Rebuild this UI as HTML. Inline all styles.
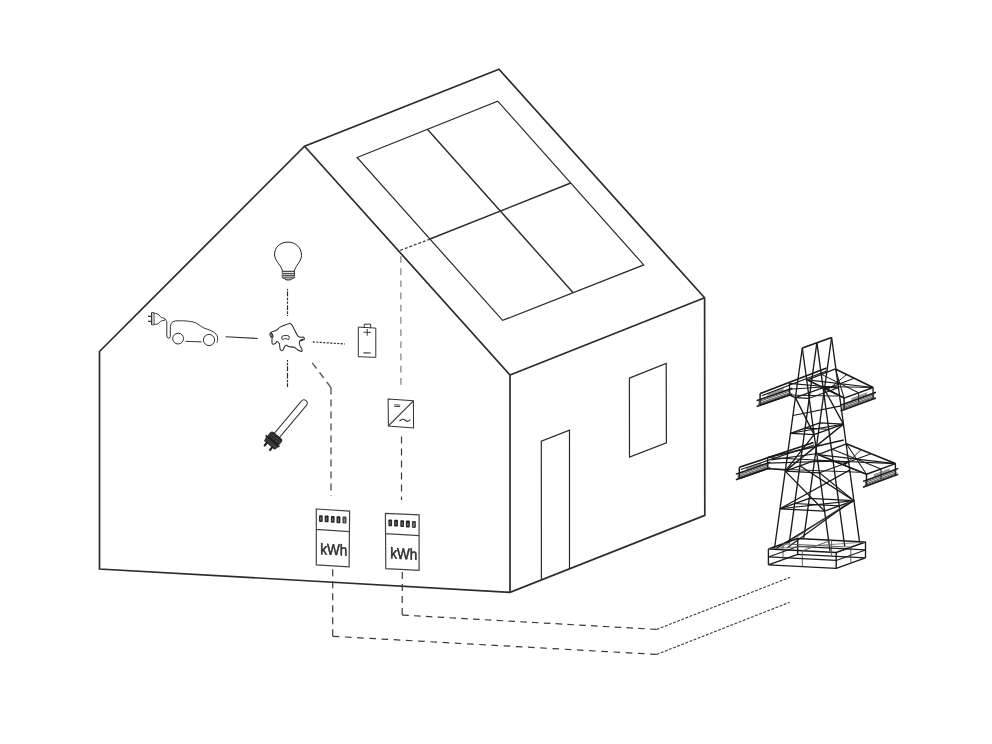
<!DOCTYPE html>
<html><head><meta charset="utf-8">
<style>
html,body{margin:0;padding:0;background:#fff;width:992px;height:744px;overflow:hidden}
svg{display:block;filter:grayscale(1)}
</style></head>
<body>
<svg width="992" height="744" viewBox="0 0 992 744">
<rect width="992" height="744" fill="#fff"/>
<g fill="none" stroke="#2c2c2c" stroke-linejoin="miter" stroke-linecap="butt">
<!-- house outline -->
<path stroke-width="1.7" d="M99.5,569 L99.5,351.5 L304.6,146.2 L499,69.2 L704.6,297.8 L704.8,515.4 L510,592.3 Z"/>
<path stroke-width="1.7" d="M304.6,146.2 L510,375 L704.6,297.8 M510,375 L510,592.3"/>
<!-- solar panel -->
<g stroke-width="1.2" stroke="#2a2a2a">
<path d="M357.1,157.5 L497.7,101.1 L643.7,264.9 L502.6,320.4 Z"/>
<path stroke-width="1.4" d="M427.4,129.3 L573.2,292.7 M429.9,239 L570.7,183"/>
</g>
<!-- door/window -->
<g stroke-width="1.2" stroke="#2a2a2a">
<path d="M541.4,579.5 L541.3,441.2 L569.5,430.1 L569.5,568.4"/>
<path d="M629.4,378.1 L666.2,363.5 L666.4,442.8 L629.5,457.1 Z"/>
</g>
<!-- dashed lines -->
<path stroke="#808080" stroke-width="1.2" stroke-dasharray="6.7 5.5" d="M400.9,384.7 L400.9,250.3"/>
<path stroke="#3a3a3a" stroke-width="1.2" stroke-dasharray="7 5" d="M401.5,436.5 L401.5,500"/>
<path stroke="#5a5a5a" stroke-width="1.4" stroke-dasharray="7 5" d="M331,387.6 L310.4,360.4"/>
<path stroke="#5a5a5a" stroke-width="1.4" stroke-dasharray="7 5" d="M331,387.6 L331,496"/>
<path stroke="#444" stroke-width="1.3" stroke-dasharray="3 1.8" d="M400.3,250.3 L430.3,239"/>
<path stroke="#2a2a2a" stroke-width="1.2" stroke-dasharray="1.6 0.9 4.8 1.4 2.6 1.2 2.2 1.6 4.6 1.4 2.6 1.2" d="M287.5,289 L287.5,316"/>
<path stroke="#2a2a2a" stroke-width="1.2" stroke-dasharray="1.8 1.2 2.2 1 5 1.8 5.5 1.5 2.2 1 4" d="M287.5,360 L287.5,387"/>
<!-- bottom cables -->
<g stroke="#3a3a3a" stroke-width="1.2">
<path stroke-dasharray="7 5" d="M332.7,636.3 L332.7,567"/>
<path stroke-dasharray="6.6 5.63" d="M332.7,636.3 L656.7,654.4"/>
<path stroke-dasharray="7 5" d="M402.2,615.1 L402.3,570.3"/>
<path stroke-dasharray="6.6 5.22" d="M402.2,615.1 L656.7,629.4"/>
<path stroke-width="1.1" stroke-dasharray="2.9 1.5" d="M656.7,654.4 L789.6,602.3 M656.7,629.4 L790,577.3"/>
</g>
<!-- meters -->
<g stroke="#444" stroke-width="1.2">
<path d="M316.3,509 L349.6,511.1 L349.1,566.8 L316.3,564.9 Z M316.3,529.4 L349.1,531.6"/>
<path d="M385.4,513.3 L419.1,514.9 L419.1,570.3 L385.8,568.7 Z M385.8,533.7 L419.1,535.6"/>
</g>
<g fill="#262626" stroke="none">
<rect x="319" y="515.2" width="3.7" height="6.7" rx="0.8"/>
<rect x="324.7" y="515.5" width="3.9" height="6.8" rx="0.8"/>
<rect x="330.9" y="515.9" width="3.7" height="6.9" rx="0.8"/>
<rect x="336.5" y="516.2" width="3.9" height="7" rx="0.8"/>
<rect x="342.5" y="516.6" width="4" height="7" rx="0.8" fill="#444"/>
<rect x="388.4" y="519.5" width="3.7" height="6.7" rx="0.8"/>
<rect x="394.1" y="519.8" width="3.9" height="6.8" rx="0.8"/>
<rect x="400.3" y="520.2" width="3.7" height="6.9" rx="0.8"/>
<rect x="405.9" y="520.5" width="3.9" height="7" rx="0.8"/>
<rect x="411.9" y="520.9" width="4" height="7" rx="0.8" fill="#444"/>
</g>
<g stroke="#bbb" stroke-width="0.6" fill="none">
<path d="M320.8,517 L320.8,520.5 M326.6,517.5 L326.6,520.8 M332.7,518 L332.7,521.5 M338.4,518.5 L338.4,521.8 M344.5,518.5 L344.5,522.5"/>
<path d="M390.2,521.3 L390.2,524.8 M396,521.8 L396,525.1 M402.1,522.3 L402.1,525.8 M407.8,522.8 L407.8,526.1 M413.9,522.8 L413.9,526.8"/>
</g>
<g opacity="0.99" fill="#2a2a2a" stroke="#2a2a2a" stroke-width="0.55" font-family="'Liberation Sans', sans-serif" font-size="15.5">
<text transform="translate(320.3,554.2) skewY(3.4)" textLength="27" lengthAdjust="spacingAndGlyphs">kWh</text>
<text transform="translate(390.3,558.3) skewY(3.4)" textLength="27" lengthAdjust="spacingAndGlyphs">kWh</text>
</g>
<!-- bulb -->
<g stroke="#222" stroke-width="1">
<path d="M282.4,271.3 C282,266 275,261.5 274.6,255 C274.2,247 280.5,242.1 288,242.1 C295.5,242.1 301.6,247.5 301.5,255.5 C301.4,262 294.8,266 294.4,271.3"/>
<path d="M282.4,271.3 L294.4,271.3 L294.6,277.5 C293,279.5 283.5,279.5 282.2,277.5 Z"/>
</g>
<path fill="#d8d8d8" stroke="none" d="M282.6,272.3 L294.2,272.3 L294.3,277.3 C292.8,279 284,279 282.5,277.3 Z"/>
<path stroke="#333" stroke-width="0.9" d="M282.5,273.6 L294.3,273.6 M282.5,275.4 L294.3,275.4 M282.6,277.2 L294.2,277.2"/>
<path stroke="#333" stroke-width="1" d="M285,279.4 C287,280.3 289.5,280.3 291.5,279.4"/>
<!-- car -->
<g stroke="#333" stroke-width="1">
<path d="M164.5,318.8 C166.5,319.5 166.8,321 166.8,323 L166.8,336 C166.8,338.5 170.3,338.7 170.3,336.8 L170.3,328 C170.3,323 172.5,321 177,320.8 C186,320.6 194,321.5 197,323.5 C200,325.5 202,327.5 206,328.8 C211,330.5 216.5,332.5 217.5,337 C218,339.5 217.5,341.5 216.8,342.8"/>
<circle cx="178.1" cy="338.6" r="5.4"/>
<circle cx="209" cy="340" r="5.6"/>
<path d="M185.4,341.3 L201.7,341.9"/>
<path d="M153.8,313.3 C156,313.3 158,313.6 159.2,315.2 C160.2,316.8 161,317.6 162.5,317.8 L164.3,318.2 C165.3,318.6 165.3,320.2 164.3,320.5 L162.5,320.6 C161,320.8 160.2,321.6 159.2,322.8 C158,324.3 156,324.4 153.8,324.4"/>
<path d="M151.5,312.7 L154,312.7 L154,324.8 L151.5,324.8 Z"/>
</g>
<path fill="#aaa" stroke="none" d="M152.3,313.5 L154,313.5 L154,324.5 L152.3,324.5 Z"/>
<path stroke="#333" stroke-width="1.3" d="M148,316.3 L151.8,316.3 M148,321.3 L151.8,321.3"/>
<path stroke="#333" stroke-width="1.1" d="M225.5,336.7 L257.8,338.5"/>
<!-- hub -->
<path stroke="#2a2a2a" stroke-width="1.05" stroke-linejoin="round" d="M272.10,337.90 C272.28,338.98 271.55,342.55 272.10,343.50 C272.65,344.45 274.62,343.95 275.40,343.60 C276.18,343.25 276.13,341.40 276.80,341.40 C277.47,341.40 278.85,342.33 279.40,343.60 C279.95,344.87 279.58,347.83 280.10,349.00 C280.62,350.17 281.75,351.00 282.50,350.60 C283.25,350.20 283.97,347.53 284.60,346.60 C285.23,345.67 285.63,345.00 286.30,345.00 C286.97,345.00 287.28,346.22 288.60,346.60 C289.92,346.98 292.63,346.73 294.20,347.30 C295.77,347.87 296.67,349.38 298.00,350.00 C299.33,350.62 301.97,352.00 302.20,351.00 C302.43,350.00 299.77,345.73 299.40,344.00 C299.03,342.27 299.48,341.40 300.00,340.60 C300.52,339.80 301.80,339.37 302.50,339.20 C303.20,339.03 304.02,339.93 304.20,339.60 C304.38,339.27 304.63,337.77 303.60,337.20 C302.57,336.63 300.03,338.35 298.00,336.20 C295.97,334.05 293.43,326.22 291.40,324.30 C289.37,322.38 287.68,324.23 285.80,324.70 C283.92,325.17 281.68,326.17 280.10,327.10 C278.52,328.03 277.72,329.50 276.30,330.30 C274.88,331.10 272.67,331.25 271.60,331.90 C270.53,332.55 270.00,333.35 269.90,334.20 C269.80,335.05 270.63,336.38 271.00,337.00 C271.37,337.62 271.92,336.82 272.10,337.90 Z"/>
<path stroke="#2a2a2a" stroke-width="1.3" d="M270.6,333.2 C272.2,333.4 273.4,335.5 272.6,337.5"/>
<path stroke="#2a2a2a" stroke-width="0.8" d="M271.5,332.6 C270.6,334 271,336 272,337"/>
<path stroke="#2a2a2a" stroke-width="1.0" d="M282.2,336.2 C284,335.2 287.5,335.3 288.8,336 C289.3,336.8 289.3,338.6 288.8,339.4 C287.5,339.8 286.5,338.4 285.4,338.4 C284.2,338.4 283.4,339.7 282.6,339.6 C281.7,339.1 281.6,336.9 282.2,336.2 Z"/>
<path stroke="#2a2a2a" stroke-width="1.1" d="M300.5,341.2 C301.2,340.2 302.2,340.0 302.9,340.8"/>
<path stroke="#333" stroke-width="1.2" stroke-dasharray="2.2 1.3" d="M312.7,341.9 L344.9,344"/>
<!-- battery -->
<g stroke="#333" stroke-width="1">
<path d="M358.3,327.1 L375.8,328.1 L375.8,357.4 L358.3,356.7 Z"/>
<path d="M364.2,327.4 L364.2,324.2 L370.6,324.2 L370.6,327.8"/>
<path d="M363.5,332.2 L370.8,332.4 M367.2,329 L367.2,335.7"/>
<path stroke-width="1.2" d="M363.5,352.8 L370.8,353"/>
</g>
<!-- heater -->
<g transform="translate(273,441) rotate(40)">
<path fill="none" stroke="#333" stroke-width="1" d="M-3.9,-7 L-3.9,-48.8 A3.3,3.3 0 0 1 2.7,-48.8 L2.7,-7"/>
<rect x="-7.2" y="-6.8" width="14" height="7.3" rx="2.2" fill="#262626"/>
<path stroke="#777" stroke-width="0.5" d="M-6.5,-4.3 L6.3,-4.3 M-6.8,-2.2 L6.6,-2.2"/>
<path stroke="#1a1a1a" stroke-width="1.6" d="M-9.3,0.4 L8.8,0.4"/>
<path fill="#3a3a3a" d="M-7.5,1.2 L7.5,1.2 L6.5,5.2 L-6.5,5.2 Z"/>
<path stroke="#1a1a1a" stroke-width="2" stroke-linecap="round" d="M-3.5,5.5 L-3.5,8.8 M3.5,5.5 L3.5,8.8"/>
</g>
<!-- inverter -->
<g stroke="#333" stroke-width="1.2">
<path stroke-width="1.05" d="M388.1,399.1 L413.4,400.8 L413.6,428 L388.4,425.9 Z"/><path stroke-width="1.2" d="M388.4,425.9 L413.4,400.8"/>
<path stroke-width="0.9" stroke="#3a3a3a" d="M394.2,404.9 L400.2,405.1 M394.2,406.4 L400.2,406.6"/>
<path stroke-width="1.15" d="M399.5,421 C402,418.5 404,419 405.5,420.5 C407,422 409,421.5 410.3,419.5"/>
</g>
</g>
<!--PYLON-->
<g id="pylon" fill="none" stroke="#1a1a1a" stroke-linejoin="round">
<path stroke-width="1.35" d="M774.5,548.5 L802.3,348.0"/>
<path stroke-width="1.35" d="M830.1,551.4 L802.3,348.0"/>
<path stroke-width="1.35" d="M789.2,543.3 L816.9,342.7"/>
<path stroke-width="1.35" d="M844.7,546.1 L816.9,342.7"/>
<path stroke-width="1.35" d="M803.8,538.0 L831.6,337.5"/>
<path stroke-width="1.35" d="M859.4,540.9 L831.6,337.5"/>
<path stroke-width="1.76" d="M802.3,348.0 L831.6,337.5"/>
<path stroke-width="1.35" d="M780.0,508.8 L824.6,511.1 L853.9,500.6 L809.3,498.3 L780.0,508.8"/>
<path stroke-width="1.08" d="M794.7,503.5 L839.2,505.9"/>
<path stroke-width="1.35" d="M790.5,433.3 L814.1,434.6 L843.4,424.1 L819.8,422.8 L790.5,433.3"/>
<path stroke-width="1.08" d="M805.1,428.1 L828.8,429.3"/>
<path stroke-width="1.35" d="M795.4,397.6 L814.1,434.6"/>
<path stroke-width="1.35" d="M814.1,434.6 L785.2,471.1"/>
<path stroke-width="1.35" d="M785.2,471.1 L824.6,511.1"/>
<path stroke-width="1.35" d="M799.9,465.8 L853.9,500.6"/>
<path stroke-width="1.22" d="M780.0,508.8 L850.0,469.9"/>
<path stroke-width="1.22" d="M819.4,472.8 L853.9,500.6"/>
<path stroke-width="1.35" d="M843.4,424.1 L785.2,471.1"/>
<path stroke-width="1.35" d="M822.4,385.5 L843.4,424.1"/>
<path stroke-width="1.08" d="M792.9,415.5 L841.0,405.9"/>
<path stroke-width="1.08" d="M790.5,433.3 L843.4,424.1"/>
<path stroke-width="1.08" d="M780.0,508.8 L853.9,500.6"/>
<path stroke-width="1.49" d="M775.9,548.6 L853.9,500.6"/>
<path stroke-width="1.22" d="M786.9,548.0 L853.0,499.8"/>
<path stroke-width="0.81" stroke="#555" d="M780.5,548.0 L853.5,499.0"/>
<path stroke-width="1.62" d="M760.1,393.5 L826.6,368.1"/>
<path stroke-width="1.49" d="M760.1,393.5 L760.1,405.2"/>
<path stroke-width="1.35" d="M789.5,383.4 L789.5,395.1"/>
<path stroke-width="1.35" d="M760.1,405.2 L789.5,395.1 L795.2,397.6"/>
<path stroke-width="0.81" stroke="#333" d="M758.3,400.5 L790.7,389.4"/>
<path stroke-width="0.81" stroke="#333" d="M758.3,401.8 L790.7,390.7"/>
<path stroke-width="0.81" stroke="#333" d="M758.3,403.5 L790.7,392.4"/>
<path stroke-width="0.81" stroke="#333" d="M758.3,404.6 L790.7,393.5"/>
<path stroke-width="0.74" stroke="#555" d="M767.5,394.3 L783.6,388.7"/>
<path stroke-width="0.74" stroke="#555" d="M767.5,395.4 L783.6,389.9"/>
<path stroke-width="1.49" d="M756.6,400.6 L792.4,388.2"/>
<path stroke-width="1.62" d="M756.6,406.4 L792.4,394.1"/>
<path stroke-width="1.35" d="M807.5,379.9 L835.4,368.9"/>
<path stroke-width="1.62" d="M835.4,368.9 L873.1,387.5"/>
<path stroke-width="1.62" d="M807.5,379.9 L844.1,398.1"/>
<path stroke-width="1.49" d="M844.1,398.1 L873.1,387.5"/>
<path stroke-width="1.49" d="M844.1,398.1 L844.1,409.6"/>
<path stroke-width="1.35" d="M873.1,387.5 L873.1,399.0"/>
<path stroke-width="1.08" d="M858.6,392.8 L858.6,402.6"/>
<path stroke-width="0.81" stroke="#333" d="M842.4,405.1 L874.3,393.4"/>
<path stroke-width="0.81" stroke="#333" d="M842.4,406.3 L874.3,394.7"/>
<path stroke-width="0.81" stroke="#333" d="M842.4,407.9 L874.3,396.3"/>
<path stroke-width="0.81" stroke="#333" d="M842.4,409.1 L874.3,397.4"/>
<path stroke-width="0.74" stroke="#555" d="M851.4,398.7 L867.3,392.8"/>
<path stroke-width="0.74" stroke="#555" d="M851.4,399.8 L867.3,394.0"/>
<path stroke-width="1.49" d="M840.6,405.1 L876.0,392.2"/>
<path stroke-width="1.62" d="M840.6,410.9 L876.0,397.9"/>
<path stroke-width="1.08" d="M825.8,389.0 L854.2,378.2"/>
<path stroke-width="1.01" d="M821.5,374.4 L858.6,392.8"/>
<path stroke-width="1.08" d="M761.6,395.7 L827.1,370.7"/>
<path stroke-width="1.08" d="M807.5,379.9 L873.1,387.5"/>
<path stroke-width="1.08" d="M835.4,368.9 L844.1,398.1"/>
<path stroke-width="0.94" d="M827.6,389.9 L846.7,374.5"/>
<path stroke-width="1.08" d="M823.7,386.5 L789.5,383.4"/>
<path stroke-width="1.08" d="M823.7,386.5 L873.1,387.5"/>
<path stroke-width="0.94" d="M823.7,386.5 L844.1,398.1"/>
<path stroke-width="1.08" d="M789.5,389.2 L829.7,386.5"/>
<path stroke-width="0.94" d="M789.5,395.1 L838.1,396.1"/>
<path stroke-width="1.62" d="M739.3,467.3 L813.6,442.5"/>
<path stroke-width="1.49" d="M739.3,467.3 L739.3,478.5"/>
<path stroke-width="1.35" d="M767.6,457.5 L767.6,468.7"/>
<path stroke-width="1.35" d="M739.3,478.5 L767.6,468.7 L786.3,470.0"/>
<path stroke-width="0.81" stroke="#333" d="M737.6,474.0 L768.7,463.3"/>
<path stroke-width="0.81" stroke="#333" d="M737.6,475.3 L768.7,464.5"/>
<path stroke-width="0.81" stroke="#333" d="M737.6,476.8 L768.7,466.1"/>
<path stroke-width="0.81" stroke="#333" d="M737.6,478.0 L768.7,467.2"/>
<path stroke-width="0.74" stroke="#555" d="M746.4,468.0 L761.9,462.6"/>
<path stroke-width="0.74" stroke="#555" d="M746.4,469.1 L761.9,463.7"/>
<path stroke-width="1.49" d="M735.9,474.1 L770.4,462.1"/>
<path stroke-width="1.62" d="M735.9,479.7 L770.4,467.7"/>
<path stroke-width="1.35" d="M817.9,454.6 L846.4,443.8"/>
<path stroke-width="1.62" d="M846.4,443.8 L895.4,463.6"/>
<path stroke-width="1.62" d="M817.9,454.6 L866.5,474.3"/>
<path stroke-width="1.49" d="M866.5,474.3 L895.4,463.6"/>
<path stroke-width="1.49" d="M866.5,474.3 L866.5,486.0"/>
<path stroke-width="1.35" d="M895.4,463.6 L895.4,475.3"/>
<path stroke-width="1.08" d="M881.0,469.0 L881.0,478.9"/>
<path stroke-width="0.81" stroke="#333" d="M864.8,481.4 L896.6,469.6"/>
<path stroke-width="0.81" stroke="#333" d="M864.8,482.7 L896.6,470.9"/>
<path stroke-width="0.81" stroke="#333" d="M864.8,484.3 L896.6,472.5"/>
<path stroke-width="0.81" stroke="#333" d="M864.8,485.5 L896.6,473.7"/>
<path stroke-width="0.74" stroke="#555" d="M873.7,474.9 L889.6,469.0"/>
<path stroke-width="0.74" stroke="#555" d="M873.7,476.1 L889.6,470.2"/>
<path stroke-width="1.49" d="M863.0,481.4 L898.3,468.4"/>
<path stroke-width="1.62" d="M863.0,487.3 L898.3,474.2"/>
<path stroke-width="1.08" d="M842.2,464.5 L870.9,453.7"/>
<path stroke-width="1.01" d="M832.1,449.2 L881.0,469.0"/>
<path stroke-width="1.08" d="M740.8,469.5 L814.1,445.1"/>
<path stroke-width="1.08" d="M817.9,454.6 L895.4,463.6"/>
<path stroke-width="1.08" d="M846.4,443.8 L866.5,474.3"/>
<path stroke-width="0.94" d="M844.6,465.4 L861.1,449.7"/>
<path stroke-width="1.08" d="M833.5,461.0 L767.6,457.5"/>
<path stroke-width="1.08" d="M833.5,461.0 L895.4,463.6"/>
<path stroke-width="0.94" d="M833.5,461.0 L866.5,474.3"/>
<path stroke-width="1.08" d="M767.6,463.1 L839.5,461.0"/>
<path stroke-width="0.94" d="M767.6,468.7 L860.5,472.3"/>
<path stroke-width="1.35" d="M767.6,457.5 L843.8,440.0"/>
<path stroke-width="1.08" d="M771.3,459.9 L819.6,453.3"/>
<path stroke-width="1.22" d="M795.4,397.6 L809.2,398.3 L838.5,387.8 L824.7,387.1 L795.4,397.6"/>
<path stroke-width="1.22" d="M785.2,471.1 L819.4,472.8 L848.7,462.3 L814.5,460.6 L785.2,471.1"/>
<path stroke-width="1.35" d="M768.4,549.0 L836.2,552.5 L865.5,542.0 L797.7,538.5 L768.4,549.0"/>
<path stroke-width="1.35" d="M768.4,564.8 L836.2,568.3 L865.5,557.8 L797.7,554.3 L768.4,564.8"/>
<path stroke-width="1.35" d="M768.4,549.0 L768.4,564.8"/>
<path stroke-width="1.35" d="M836.2,552.5 L836.2,568.3"/>
<path stroke-width="1.35" d="M865.5,542.0 L865.5,557.8"/>
<path stroke-width="1.35" d="M797.7,538.5 L797.7,554.3"/>
<path stroke-width="0.94" stroke="#555" d="M802.3,550.8 L802.3,566.5"/>
<path stroke-width="1.08" d="M768.4,556.9 L836.2,560.4"/>
<path stroke-width="0.94" stroke="#555" d="M850.8,547.2 L850.8,563.0"/>
<path stroke-width="1.08" d="M836.2,560.4 L865.5,549.9"/>
<path stroke-width="0.94" stroke="#555" d="M831.6,540.2 L831.6,556.0"/>
<path stroke-width="1.08" d="M865.5,549.9 L797.7,546.4"/>
<path stroke-width="0.94" stroke="#555" d="M783.0,543.8 L783.0,559.5"/>
<path stroke-width="1.08" d="M797.7,546.4 L768.4,556.9"/>
<path stroke-width="0.94" stroke="#555" d="M802.3,550.8 L831.6,540.2"/>
<path stroke-width="0.94" stroke="#555" d="M783.0,543.8 L850.8,547.2"/>
<path stroke-width="0.81" stroke="#666" d="M768.4,549.0 L865.5,542.0"/>
</g>
<!--/PYLON-->
</svg>
</body></html>
